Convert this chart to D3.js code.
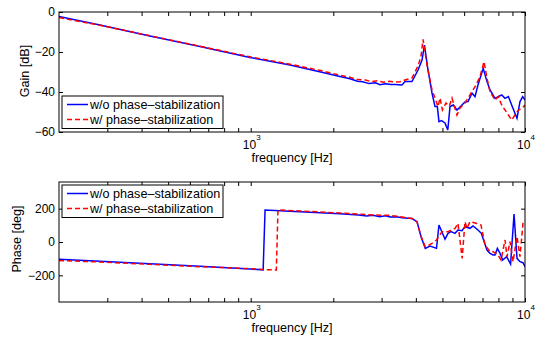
<!DOCTYPE html>
<html>
<head>
<meta charset="utf-8">
<script src="https://cdn.jsdelivr.net/npm/d3@7"></script>
<style>
  body { margin: 0; background: #fff; }
  text { font-family: "Liberation Sans", Arial, Helvetica, sans-serif; fill: #000; }
</style>
</head>
<body>
<div id="chart"></div>
<script>
// gain [dB] vs frequency [Hz]
const gainFreqBlue = [200, 282, 429, 653, 994, 1391, 1800, 2116, 2300, 2450, 2560, 2700, 2850, 2960, 3100, 3250, 3357, 3560, 3652, 3873, 4074, 4213, 4300, 4430, 4581, 4698, 4790, 4857, 4960, 5109, 5230, 5328, 5480, 5650, 5890, 6042, 6200, 6408, 6572, 6739, 7040, 7268, 7455, 7775, 7990, 8220, 8457, 8700, 8940, 9350, 9588, 9810, 10000];
const gainBlue = [-2.3, -6.5, -12, -17.3, -22.7, -26.5, -30, -32.3, -33.4, -34.6, -34.9, -35.8, -35.4, -36.4, -35.9, -36.3, -36.2, -36.5, -34.8, -34.8, -29, -24, -16.5, -29, -40.5, -47.3, -47.3, -54.8, -54.3, -55.5, -59, -47.3, -46.5, -49, -46.5, -45, -44.8, -40.6, -42.3, -36.5, -28.2, -34.8, -39, -43.2, -42.3, -41.5, -43.2, -42.3, -46.5, -53.2, -44.8, -42.3, -44];
const gainFreqRed = [200, 282, 429, 653, 994, 1391, 1800, 2116, 2300, 2450, 2600, 2750, 2900, 3050, 3200, 3357, 3500, 3652, 3873, 4074, 4178, 4248, 4393, 4581, 4698, 4817, 4899, 5000, 5152, 5300, 5417, 5650, 5794, 6042, 6408, 6628, 6854, 7088, 7268, 7455, 7775, 7990, 8220, 8457, 8700, 8940, 9196, 9470, 9750, 10000];
const gainRed = [-2.8, -6.6, -11.9, -17.1, -22.4, -26.1, -29.3, -31.6, -32.6, -33.8, -33.9, -34.8, -34.4, -35.1, -34.6, -35, -34.9, -34, -33, -27, -22, -13.7, -26.5, -39, -43, -47.3, -43, -49, -45.5, -47, -43, -51.5, -48, -45.5, -39.8, -36.5, -32.3, -24.8, -33.2, -39.8, -44, -42.3, -46.5, -49, -51.5, -54, -51.5, -49, -48.2, -46.5];

// phase [deg] vs frequency [Hz]
const phaseFreqBlue = [200, 282, 429, 653, 994, 1110, 1128, 1512, 2116, 2470, 2650, 2791, 2950, 3100, 3220, 3400, 3560, 3873, 4039, 4178, 4330, 4505, 4757, 4857, 5109, 5240, 5370, 5556, 5697, 5892, 6042, 6300, 6462, 6739, 6930, 7268, 7455, 7645, 7775, 7930, 8108, 8290, 8570, 8860, 9121, 9351, 9588, 9833, 10000];
const phaseBlue = [-104, -116, -131, -146, -162, -167, 192, 182, 170, 162, 156, 160, 152, 157, 150, 151, 146, 141, 122, 32, -38, -24, -38, 102, 16, 52, 62, 52, 72, 68, 92, 82, 96, 72, 52, -48, -68, -78, -78, -38, -68, -108, -88, -132, 168, -98, -118, -124, -148];
const phaseFreqRed = [200, 282, 429, 653, 994, 1128, 1240, 1257, 1512, 2116, 2470, 2791, 3220, 3560, 3873, 4039, 4178, 4330, 4581, 4757, 4982, 5240, 5556, 5697, 5900, 6042, 6144, 6300, 6628, 6912, 7148, 7455, 7645, 7974, 8180, 8457, 8599, 8818, 9043, 9351, 9588, 9833, 10000];
const phaseRed = [-111, -120, -134, -148, -160, -166, -168, 192, 186, 174, 168, 162, 160, 150, 141, 120, 35, -30, -8, 12, 62, 62, 82, 112, -98, 122, 82, 122, 112, 102, -18, -58, -58, -78, -108, 12, -88, 2, -118, 32, -88, 112, 132];

const seriesNames = ["w/o phase\u2013stabilization", "w/ phase\u2013stabilization"];
const freqTicks = [300, 400, 500, 600, 700, 800, 900, 1000, 2000, 3000, 4000, 5000, 6000, 7000, 8000, 9000, 10000];
const decadeTicks = [1000, 10000];
const gainTicks = [0, -20, -40, -60];
const phaseTicks = [-200, 0, 200];

const W = 539, H = 337;
const svg = d3.select("#chart").append("svg")
  .attr("width", W)
  .attr("height", H);

const x = d3.scaleLog().domain([200, 10000]).range([59, 525]);

function drawPanel(p) {
  let y = d3.scaleLinear().domain(p.domain).range([p.bottom, p.top]);
  let g = svg.append("g");
  let clipId = "clip" + p.top;
  g.append("clipPath").attr("id", clipId)
    .append("rect")
    .attr("x", x.range()[0]).attr("y", p.top)
    .attr("width", x.range()[1] - x.range()[0])
    .attr("height", p.bottom - p.top);

  // ticks pointing inward on all four sides
  let ax = [
    [d3.axisBottom(x), "translate(0," + p.bottom + ")"],
    [d3.axisTop(x), "translate(0," + p.top + ")"]
  ];
  ax.forEach(function (a) {
    g.append("g").attr("transform", a[1])
      .call(a[0].tickValues(freqTicks).tickSize(-4).tickFormat(""))
      .call(s => s.select(".domain").remove())
      .selectAll("line").attr("stroke", "#000");
  });
  g.append("g").attr("transform", "translate(" + x.range()[0] + ",0)")
    .call(d3.axisLeft(y).tickValues(p.ticks).tickSize(-4).tickPadding(4))
    .call(s => s.select(".domain").remove())
    .call(s => s.selectAll("text").style("font-size", "12px").attr("font-family", null))
    .selectAll("line").attr("stroke", "#000");
  g.append("g").attr("transform", "translate(" + x.range()[1] + ",0)")
    .call(d3.axisRight(y).tickValues(p.ticks).tickSize(-4).tickFormat(""))
    .call(s => s.select(".domain").remove())
    .selectAll("line").attr("stroke", "#000");

  // decade labels 10^n
  decadeTicks.forEach(function (f) {
    let t = g.append("text")
      .attr("x", x(f) + 1)
      .attr("y", p.bottom + 17)
      .attr("text-anchor", "middle")
      .style("font-size", "12px");
    t.append("tspan").text("10");
    t.append("tspan").attr("dy", -9).style("font-size", "8px").text(Math.round(Math.log10(f)));
  });

  g.append("text")
    .attr("x", (x.range()[0] + x.range()[1]) / 2)
    .attr("y", p.bottom + 30)
    .attr("text-anchor", "middle")
    .style("font-size", "12.6px")
    .text("frequency [Hz]");

  g.append("text")
    .attr("transform", "translate(" + p.labelX + "," + p.labelY + ") rotate(-90)")
    .attr("text-anchor", "middle")
    .style("font-size", "12.6px")
    .text(p.label);

  let line = d3.line()
    .x(d => x(d[0]))
    .y(d => y(d[1]));

  let plot = g.append("g").attr("clip-path", "url(#" + clipId + ")");
  plot.append("path")
    .datum(d3.zip(p.fBlue, p.vBlue))
    .attr("fill", "none")
    .attr("stroke", "#0000ff")
    .attr("stroke-width", 1.5)
    .attr("d", line);
  plot.append("path")
    .datum(d3.zip(p.fRed, p.vRed))
    .attr("fill", "none")
    .attr("stroke", "#ff0000")
    .attr("stroke-width", 1.5)
    .attr("stroke-dasharray", "5,3")
    .attr("d", line);

  // frame
  g.append("rect")
    .attr("x", x.range()[0]).attr("y", p.top)
    .attr("width", x.range()[1] - x.range()[0])
    .attr("height", p.bottom - p.top)
    .attr("fill", "none")
    .attr("stroke", "#000")
    .attr("stroke-width", 1);

  // legend
  let lg = g.append("g").attr("transform", "translate(62," + p.legendTop + ")");
  lg.append("rect")
    .attr("width", 161).attr("height", 32.5)
    .attr("fill", "#fff")
    .attr("stroke", "#000");
  [["#0000ff", null], ["#ff0000", "5,3"]].forEach(function (s, i) {
    let yy = 8.5 + i * 15;
    lg.append("line")
      .attr("x1", 5).attr("x2", 26)
      .attr("y1", yy).attr("y2", yy)
      .attr("stroke", s[0])
      .attr("stroke-width", 1.5)
      .attr("stroke-dasharray", s[1]);
    lg.append("text")
      .attr("x", 28).attr("y", yy + 4.5)
      .style("font-size", "12.6px")
      .text(seriesNames[i]);
  });
}

drawPanel({
  top: 12, bottom: 132, domain: [-60, 0], ticks: gainTicks,
  label: "Gain [dB]", labelX: 29, labelY: 71, legendTop: 96,
  fBlue: gainFreqBlue, vBlue: gainBlue, fRed: gainFreqRed, vRed: gainRed
});
drawPanel({
  top: 182, bottom: 302, domain: [-360, 360], ticks: phaseTicks,
  label: "Phase [deg]", labelX: 21, labelY: 239, legendTop: 185,
  fBlue: phaseFreqBlue, vBlue: phaseBlue, fRed: phaseFreqRed, vRed: phaseRed
});
</script>
</body>
</html>
